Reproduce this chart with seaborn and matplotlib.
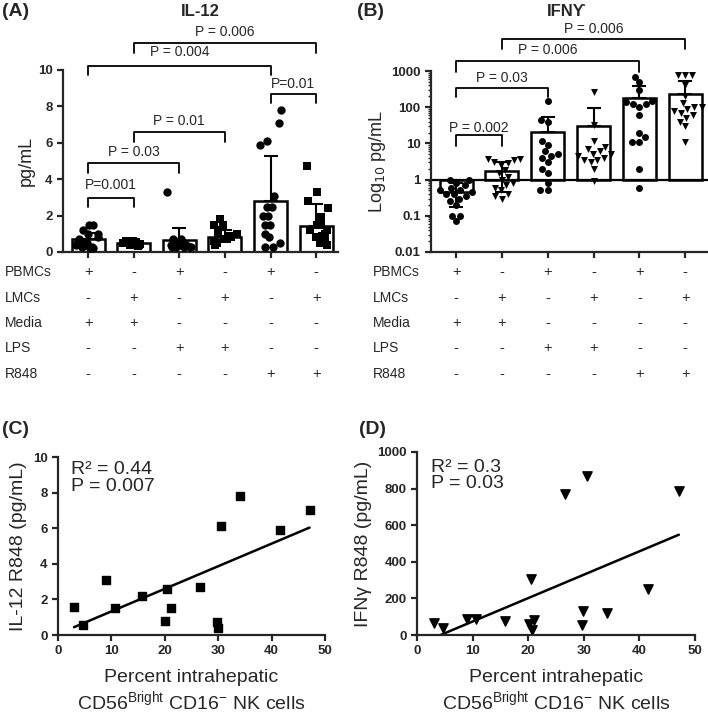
import numpy as np
import pandas as pd
import matplotlib
matplotlib.use('Agg')
import matplotlib.pyplot as plt
import matplotlib.transforms as mtransforms
import seaborn as sns

sns.set_style('ticks')
plt.rcParams['font.family'] = ['Liberation Sans', 'DejaVu Sans']
plt.rcParams['axes.linewidth'] = 1.6
plt.rcParams['xtick.major.width'] = 1.6
plt.rcParams['ytick.major.width'] = 1.6
plt.rcParams['ytick.minor.width'] = 1.0
np.random.seed(3)

# conditions (bar order)
conditions = ['PBMC Media', 'LMC Media', 'PBMC LPS', 'LMC LPS', 'PBMC R848', 'LMC R848']
pbmc_conds = ['PBMC Media', 'PBMC LPS', 'PBMC R848']
lmc_conds = ['LMC Media', 'LMC LPS', 'LMC R848']

# IL-12 (pg/mL), individual donors
il12_pbmc_media = [1.5, 1.5, 1.2, 1.0, 1.0, 0.8, 0.7, 0.6, 0.5, 0.5, 0.4, 0.4, 0.3, 0.3, 0.2, 0.2]
il12_lmc_media = [0.6, 0.6, 0.6, 0.55, 0.5, 0.5, 0.5, 0.5, 0.45, 0.45, 0.4, 0.4, 0.4, 0.35, 0.5, 0.55]
il12_pbmc_lps = [3.3, 0.7, 0.7, 0.55, 0.5, 0.5, 0.45, 0.4, 0.4, 0.4, 0.35, 0.3, 0.3, 0.3, 0.3, 0.3]
il12_lmc_lps = [1.8, 1.5, 1.5, 1.2, 1.0, 1.0, 0.9, 0.8, 0.8, 0.7, 0.7, 0.6, 0.6, 0.5, 0.5, 0.4]
il12_pbmc_r848 = [7.8, 7.1, 6.1, 5.9, 3.1, 2.5, 2.5, 2.0, 2.0, 1.5, 1.5, 1.0, 0.8, 0.5, 0.3, 0.3]
il12_lmc_r848 = [4.7, 3.3, 2.8, 2.4, 1.9, 1.5, 1.5, 1.2, 1.2, 1.0, 0.9, 0.8, 0.6, 0.5, 0.5, 0.4]
il12_mean = [0.7, 0.5, 0.65, 0.85, 2.8, 1.45]
il12_sd = [0.35, 0.1, 0.65, 0.35, 2.5, 1.2]

# IFN-gamma (pg/mL), individual donors
ifng_pbmc_media = [1.0, 1.0, 0.8, 0.7, 0.6, 0.5, 0.5, 0.45, 0.4, 0.4, 0.35, 0.3, 0.25, 0.2, 0.1, 0.1, 0.07]
ifng_lmc_media = [3.8, 3.8, 3.5, 3.0, 2.8, 2.5, 1.8, 1.5, 1.2, 1.0, 0.8, 0.7, 0.6, 0.5, 0.4, 0.35, 0.3]
ifng_pbmc_lps = [150, 45, 40, 12, 9, 6, 5, 4.5, 4, 3, 2, 1.5, 0.8, 0.5, 0.5]
ifng_lmc_lps = [270, 32, 12, 8, 7, 6, 5, 5, 4.5, 4, 3.5, 3.5, 3, 2, 0.9]
ifng_pbmc_r848 = [700, 500, 300, 150, 140, 120, 120, 100, 60, 20, 15, 11, 11, 2, 0.6]
ifng_lmc_r848 = [800, 800, 800, 400, 200, 130, 100, 100, 90, 80, 70, 60, 50, 40, 30, 11]
ifng_mean = [0.45, 1.7, 21, 30, 175, 230]
ifng_err_low = [0.27, 1.25, 0, 0, 0, 0]
ifng_err_high = [0.35, 1.3, 34, 65, 205, 290]

# stimulation table under panels A and B
table_rows = ['PBMCs', 'LMCs', 'Media', 'LPS', 'R848']
table_signs = [['+', '-', '+', '-', '+', '-'],
               ['-', '+', '-', '+', '-', '+'],
               ['+', '+', '-', '-', '-', '-'],
               ['-', '-', '+', '+', '-', '-'],
               ['-', '-', '-', '-', '+', '+']]

# correlation panels
pct_nk_c = [3, 4.6, 9, 10.7, 15.8, 20.1, 20.5, 21.1, 26.6, 29.7, 29.9, 30.6, 34.1, 41.5, 47.1]
il12_r848 = [1.6, 0.55, 3.1, 1.5, 2.2, 0.8, 2.6, 1.5, 2.7, 0.75, 0.4, 6.1, 7.8, 5.9, 7.05]
pct_nk_d = [3, 4.6, 9, 10.7, 15.8, 20.1, 20.5, 20.6, 21.1, 26.6, 29.7, 29.9, 30.6, 34.1, 41.5, 47.1]
ifng_r848 = [65, 40, 85, 85, 75, 60, 305, 25, 80, 770, 55, 130, 870, 120, 250, 785]


def long_df(groups):
    rows = []
    for cond, vals in zip(conditions, groups):
        for v in vals:
            rows.append((cond, v))
    return pd.DataFrame(rows, columns=['condition', 'value'])


il12_df = long_df([il12_pbmc_media, il12_lmc_media, il12_pbmc_lps,
                   il12_lmc_lps, il12_pbmc_r848, il12_lmc_r848])
ifng_df = long_df([ifng_pbmc_media, ifng_lmc_media, ifng_pbmc_lps,
                   ifng_lmc_lps, ifng_pbmc_r848, ifng_lmc_r848])

W, H = 708, 716
fig = plt.figure(figsize=(W / 100, H / 100), dpi=100)


def px_axes(left, top, right, bottom):
    return fig.add_axes([left / W, 1 - bottom / H, (right - left) / W, (bottom - top) / H])


def bracket(ax, x1, x2, y_top, y_leg, text, ty):
    ax.plot([x1, x1, x2, x2], [y_leg, y_top, y_top, y_leg], color='black', lw=1.3, clip_on=False)
    ax.text((x1 + x2) / 2, ty, text, ha='center', va='center', fontsize=10, clip_on=False)


def style_axes(ax):
    sns.despine(ax=ax)
    ax.tick_params(axis='both', direction='out', length=4, labelsize=9.5)
    for lab in ax.get_yticklabels() + ax.get_xticklabels():
        lab.set_fontweight('bold')


pos = np.arange(len(conditions))

# ---- (A) IL-12
axA = px_axes(63, 70, 338, 252)
axA.bar(pos, il12_mean, width=0.72, color='white', edgecolor='black', lw=1.8, zorder=1)
sns.stripplot(data=il12_df[il12_df.condition.isin(pbmc_conds)], x='condition', y='value',
              order=conditions, marker='o', color='black', size=6, jitter=0.28, ax=axA, zorder=3)
sns.stripplot(data=il12_df[il12_df.condition.isin(lmc_conds)], x='condition', y='value',
              order=conditions, marker='s', color='black', size=6, jitter=0.28, ax=axA, zorder=3)
axA.errorbar(pos, il12_mean, yerr=[np.zeros(6), il12_sd], fmt='none', ecolor='black',
             elinewidth=1.5, capsize=5, capthick=1.5, zorder=4)
axA.set_xlim(-0.55, 5.48)
axA.set_ylim(0, 10)
axA.set_yticks([0, 2, 4, 6, 8, 10])
axA.set_xticks(pos)
axA.set_xticklabels([])
axA.set_xlabel('')
axA.set_ylabel('pg/mL', fontsize=13, labelpad=2)
style_axes(axA)
bracket(axA, 0, 1, 2.95, 2.45, 'P=0.001', 3.7)
bracket(axA, 0, 2, 4.9, 4.35, 'P = 0.03', 5.5)
bracket(axA, 1, 3, 6.6, 6.05, 'P = 0.01', 7.2)
bracket(axA, 4, 5, 8.7, 8.2, 'P=0.01', 9.25)
bracket(axA, 0, 4, 10.2, 9.75, 'P = 0.004', 11.0)
bracket(axA, 1, 5, 11.5, 10.95, 'P = 0.006', 12.1)

# ---- (B) IFN-gamma
axB = px_axes(431, 71, 708, 252)
axB.set_yscale('log')
axB.bar(pos, np.array(ifng_mean) - 1, bottom=1, width=0.72, color='white',
        edgecolor='black', lw=1.8, zorder=1)
sns.swarmplot(data=ifng_df[ifng_df.condition.isin(pbmc_conds)], x='condition', y='value',
              order=conditions, marker='o', color='black', size=5, ax=axB, zorder=3)
sns.swarmplot(data=ifng_df[ifng_df.condition.isin(lmc_conds)], x='condition', y='value',
              order=conditions, marker='v', color='black', size=5, ax=axB, zorder=3)
axB.errorbar(pos, ifng_mean, yerr=[ifng_err_low, ifng_err_high], fmt='none', ecolor='black',
             elinewidth=1.5, capsize=5, capthick=1.5, zorder=4)
axB.axhline(1, color='black', lw=1.6, zorder=2)
axB.set_xlim(-0.55, 5.5)
axB.set_ylim(0.01, 1000)
axB.set_yticks([0.01, 0.1, 1, 10, 100, 1000], ['0.01', '0.1', '1', '10', '100', '1000'])
axB.set_xticks(pos)
axB.set_xticklabels([])
axB.set_xlabel('')
axB.set_ylabel('Log$_{10}$ pg/mL', fontsize=13, labelpad=2)
style_axes(axB)
axB.tick_params(axis='y', which='minor', length=2.5)
bracket(axB, 0, 1, 17, 8.5, 'P = 0.002', 27)
bracket(axB, 0, 2, 330, 190, 'P = 0.03', 650)
bracket(axB, 0, 4, 1900, 950, 'P = 0.006', 3800)
bracket(axB, 1, 5, 7600, 4000, 'P = 0.006', 14500)

# ---- stimulation tables
table_y = [272, 298, 323, 348, 374]
for ax, label_x in [(axA, 5), (axB, 373)]:
    trans = mtransforms.blended_transform_factory(ax.transData, fig.transFigure)
    for row, signs, ypx in zip(table_rows, table_signs, table_y):
        fig.text(label_x / W, 1 - ypx / H, row, ha='left', va='center', fontsize=10)
        for i, s in enumerate(signs):
            ax.text(i, 1 - ypx / H, s, transform=trans, ha='center', va='center',
                    fontsize=10.5, clip_on=False)

xlab = 'Percent intrahepatic\nCD56$^{\\mathregular{Bright}}$ CD16$^{\\mathregular{-}}$ NK cells'

# ---- (C) IL-12 vs CD56bright
axC = px_axes(58, 457, 325, 635)
sns.regplot(x=pct_nk_c, y=il12_r848, ci=None, marker='s', color='black', ax=axC,
            scatter_kws={'s': 36, 'alpha': 1}, line_kws={'lw': 1.8})
axC.set_xlim(0, 50)
axC.set_ylim(0, 10)
axC.set_xticks([0, 10, 20, 30, 40, 50])
axC.set_yticks([0, 2, 4, 6, 8, 10])
axC.set_ylabel('IL-12 R848 (pg/mL)', fontsize=14)
axC.set_xlabel(xlab, fontsize=14, labelpad=8)
style_axes(axC)
axC.text(2.4, 9.3, 'R² = 0.44', fontsize=14, va='center')
axC.text(2.4, 8.35, 'P = 0.007', fontsize=14, va='center')

# ---- (D) IFN-gamma vs CD56bright
axD = px_axes(417, 452, 695, 635)
sns.regplot(x=pct_nk_d, y=ifng_r848, ci=None, marker='v', color='black', ax=axD,
            scatter_kws={'s': 45, 'alpha': 1}, line_kws={'lw': 1.8})
axD.set_xlim(0, 50)
axD.set_ylim(0, 1000)
axD.set_xticks([0, 10, 20, 30, 40, 50])
axD.set_yticks([0, 200, 400, 600, 800, 1000])
axD.set_ylabel('IFNγ R848 (pg/mL)', fontsize=14)
axD.set_xlabel(xlab, fontsize=14, labelpad=8)
style_axes(axD)
axD.text(2.5, 915, 'R² = 0.3', fontsize=14, va='center')
axD.text(2.5, 830, 'P = 0.03', fontsize=14, va='center')

# ---- panel letters and titles
fig.text(2 / W, 1 - 12 / H, '(A)', fontsize=14, fontweight='bold', va='center')
fig.text(200 / W, 1 - 12 / H, 'IL-12', fontsize=12, fontweight='bold', va='center', ha='center')
fig.text(357 / W, 1 - 12 / H, '(B)', fontsize=14, fontweight='bold', va='center')
fig.text(567 / W, 1 - 12 / H, 'IFNϒ', fontsize=12, fontweight='bold', va='center', ha='center')
fig.text(2 / W, 1 - 430 / H, '(C)', fontsize=14, fontweight='bold', va='center')
fig.text(359 / W, 1 - 430 / H, '(D)', fontsize=14, fontweight='bold', va='center')

fig.savefig('out.png', dpi=100)
